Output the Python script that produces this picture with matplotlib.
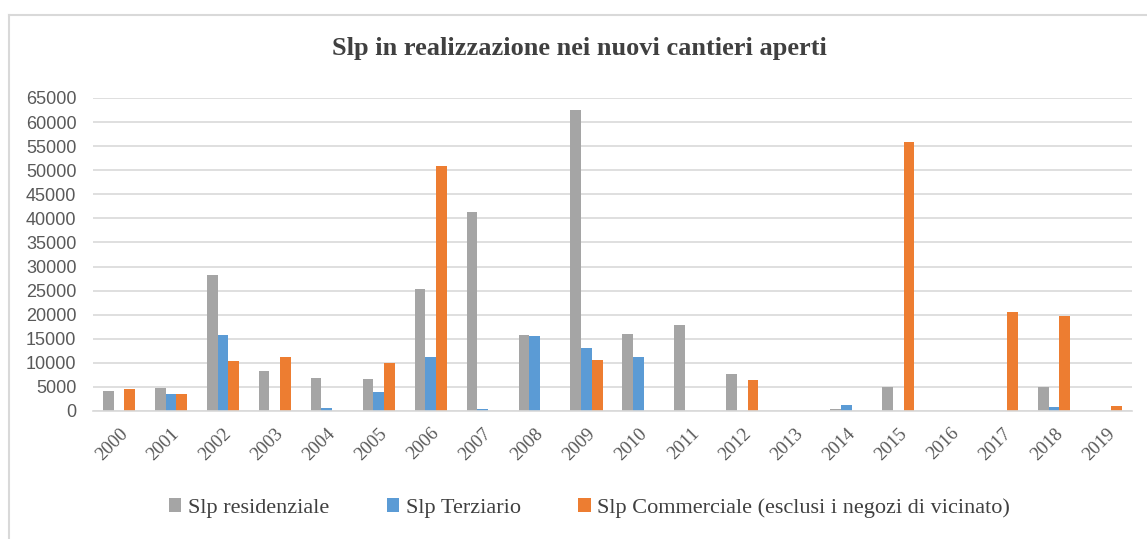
import matplotlib
matplotlib.use("Agg")
import matplotlib.pyplot as plt
import numpy as np
from matplotlib.lines import Line2D

# dati
anni = [str(a) for a in range(2000, 2020)]
residenziale = [4200, 4800, 28300, 8400, 6800, 6600, 25400, 41400, 15700, 62600,
                16000, 17800, 7700, 0, 400, 5000, 0, 0, 5000, 0]
terziario = [0, 3500, 15700, 0, 700, 4000, 11300, 350, 15500, 13000,
             11300, 0, 0, 0, 1250, 0, 0, 0, 830, 0]
commerciale = [4600, 3500, 10300, 11300, 0, 10000, 50800, 0, 0, 10650,
               0, 0, 6500, 0, 0, 55800, 0, 20500, 19800, 1100]

serif = ["Liberation Serif", "DejaVu Serif"]
sans = ["Liberation Sans", "DejaVu Sans"]

fig = plt.figure(figsize=(11.47, 5.39), dpi=100)
ax = fig.add_axes([0.0811, 0.2375, 0.9058, 0.5807])

x = np.arange(len(anni))
w = 0.206
ax.bar(x - w, residenziale, w, color="#A5A5A5", label="Slp residenziale")
ax.bar(x, terziario, w, color="#5B9BD5", label="Slp Terziario")
ax.bar(x + w, commerciale, w, color="#ED7D31",
       label="Slp Commerciale (esclusi i negozi di vicinato)")

ax.set_xlim(-0.5, len(anni) - 0.5)
ax.set_ylim(0, 65000)
ax.set_yticks(range(0, 65001, 5000))
ax.set_yticklabels([str(v) for v in range(0, 65001, 5000)],
                   family=sans, fontsize=13, color="#595959")
ax.set_xticks(x)
ax.set_xticklabels(anni, rotation=45, ha="right", va="top",
                   rotation_mode="anchor", family=serif, fontsize=13.5,
                   color="#595959")
ax.tick_params(length=0)
ax.tick_params(axis="y", pad=12)
ax.tick_params(axis="x", pad=10)
ax.grid(axis="y", color="#D9D9D9", linewidth=1.2)
ax.set_axisbelow(True)
for s in ["top", "right", "left"]:
    ax.spines[s].set_visible(False)
ax.spines["bottom"].set_color("#D9D9D9")
ax.spines["bottom"].set_linewidth(1.2)

fig.text(0.505, 1 - 49 / 539, "Slp in realizzazione nei nuovi cantieri aperti",
         ha="center", va="center", family=serif, fontsize=19,
         fontweight="bold", color="#404040")

fig.legend(loc="center", bbox_to_anchor=(0.514, 1 - 508 / 539), ncol=3,
           frameon=False, prop={"family": serif, "size": 16},
           labelcolor="#404040", handlelength=0.55, handleheight=0.6,
           handletextpad=0.3, columnspacing=2.6)

# cornice del grafico (solo bordo superiore e sinistro visibili)
fig.add_artist(Line2D([9 / 1147, 9 / 1147], [0, 1 - 15 / 539],
                      transform=fig.transFigure, color="#D9D9D9", lw=1.5))
fig.add_artist(Line2D([9 / 1147, 1], [1 - 15 / 539, 1 - 15 / 539],
                      transform=fig.transFigure, color="#D9D9D9", lw=1.5))

fig.savefig("out.png", dpi=100)
